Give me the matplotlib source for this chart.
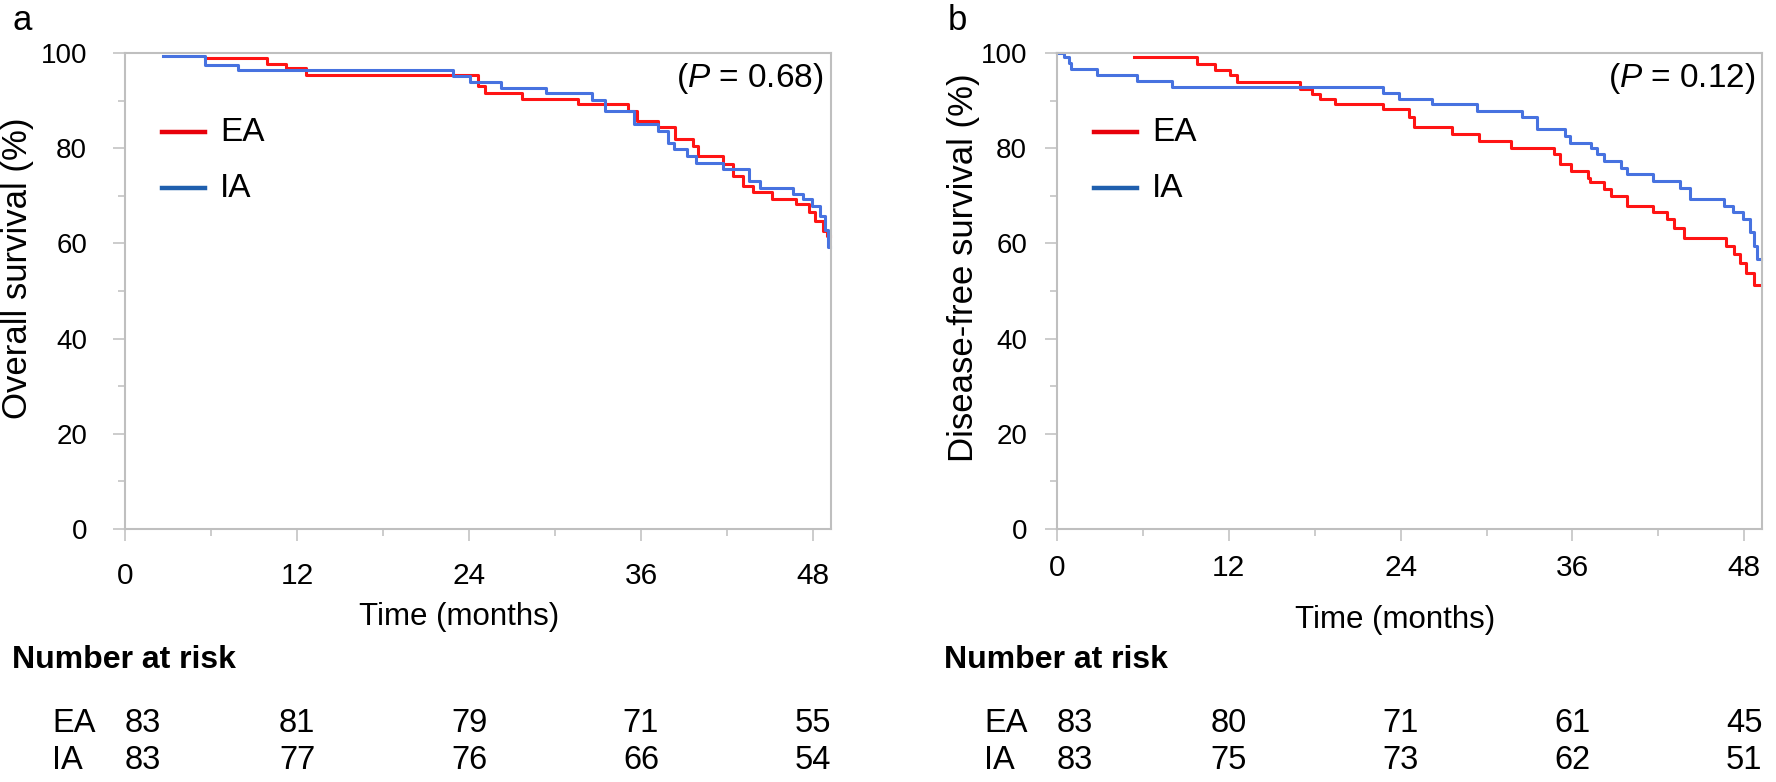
import matplotlib.pyplot as plt
import matplotlib.transforms as mtransforms

plt.rcParams['font.family'] = ['Liberation Sans', 'DejaVu Sans']
plt.rcParams['mathtext.fontset'] = 'custom'
plt.rcParams['mathtext.it'] = 'Liberation Sans:italic'
plt.rcParams['mathtext.rm'] = 'Liberation Sans'

## data
groups = ["EA", "IA"]
riskMonths = [0, 12, 24, 36, 48]
followUpEnd = 49.2

# (a) overall survival
osEaTimes = [5.6, 9.9, 11.2, 12.6, 24.6, 25.1, 27.7, 31.6, 35.1, 35.7, 37.2, 38.4,
             39.6, 40.0, 41.7, 42.4, 43.1, 43.8, 45.1, 46.8, 47.7, 48.1, 48.7, 48.95]
osEaSurv = [98.9, 97.7, 96.8, 95.4, 93.0, 91.7, 90.3, 89.3, 87.9, 85.7, 84.4, 81.9,
            80.5, 78.4, 76.6, 74.2, 72.1, 70.7, 69.4, 68.2, 66.5, 64.7, 62.6, 61.5]
osIaTimes = [2.65, 5.6, 7.9, 22.9, 24.1, 26.2, 29.4, 32.6, 33.5, 35.5, 37.2, 37.9,
             38.3, 39.2, 39.8, 41.7, 43.5, 44.3, 46.6, 47.3, 47.9, 48.5, 48.8, 49.05]
osIaSurv = [99.3, 97.5, 96.4, 95.2, 94.0, 92.6, 91.5, 90.2, 87.9, 85.1, 83.6, 81.2,
            79.8, 78.4, 77.0, 75.6, 73.1, 71.7, 70.3, 69.3, 67.9, 65.8, 62.9, 59.2]
osEaRisk = [83, 81, 79, 71, 55]
osIaRisk = [83, 77, 76, 66, 54]

# (b) disease-free survival
dfsEaTimes = [5.4, 9.8, 11.0, 12.1, 12.6, 17.0, 17.8, 18.4, 19.4, 22.8, 24.6, 24.9,
              27.6, 29.5, 31.7, 34.7, 35.1, 35.9, 37.1, 37.2, 38.2, 38.7, 39.8, 41.6,
              42.6, 43.1, 43.8, 46.7, 47.3, 47.7, 48.1, 48.7]
dfsEaSurv = [99.1, 97.7, 96.4, 95.4, 93.9, 92.5, 91.4, 90.3, 89.3, 88.2, 86.5, 84.4,
             83.0, 81.5, 80.1, 78.7, 76.6, 75.2, 73.8, 72.8, 71.4, 70.0, 67.9, 66.5,
             65.1, 63.3, 61.2, 59.4, 57.7, 55.9, 53.8, 51.3]
dfsIaTimes = [0, 0.5, 0.8, 0.95, 2.8, 5.6, 8.0, 22.8, 23.9, 26.2, 29.3, 32.5, 33.5,
              35.5, 35.8, 37.3, 37.7, 38.2, 39.4, 39.8, 41.6, 43.5, 44.2, 46.6, 47.2,
              47.9, 48.4, 48.7, 48.9]
dfsIaSurv = [100.0, 99.1, 98.0, 96.6, 95.4, 94.2, 92.8, 91.7, 90.3, 89.3, 87.9, 86.5,
             84.0, 82.6, 81.2, 80.1, 78.7, 77.3, 75.9, 74.5, 73.1, 71.7, 69.3, 67.9,
             66.5, 65.1, 62.3, 59.5, 56.8]
dfsEaRisk = [83, 80, 71, 61, 45]
dfsIaRisk = [83, 75, 73, 62, 51]

RED = '#ff1414'
BLUE = '#4772e0'
LEGEND_COLORS = ['#e8000b', '#1f5fae']
GRAY = '#bfbfbf'


##  drawPanel
##  draws one survival panel with its legend, P value and number-at-risk table
##
def drawPanel(fig, rect, letter, letterX, ylabel, ylabelX, pText, xlabelPos,
              curves, risks, ytickPad, xtickPad):
    ax = fig.add_axes(rect)
    for (times, surv), col in zip(curves, [RED, BLUE]):
        ax.step(times + [followUpEnd], surv + [surv[-1]], where='post',
                color=col, lw=2.2, clip_on=False)

    ax.set_xlim(0, 49.25)
    ax.set_ylim(0, 100)
    ax.set_xticks(riskMonths)
    ax.set_xticks([m + 6 for m in riskMonths[:-1]], minor=True)
    ax.set_yticks(range(0, 101, 20))
    ax.set_yticks(range(10, 100, 20), minor=True)
    ax.tick_params(which='major', length=8.6, width=1.1, color=GRAY)
    ax.tick_params(which='minor', length=5, width=1.1, color=GRAY)
    ax.tick_params(axis='y', which='major', labelsize=20, pad=ytickPad)
    ax.tick_params(axis='x', which='major', labelsize=21.5, pad=xtickPad)
    for sp in ax.spines.values():
        sp.set_color(GRAY)
        sp.set_linewidth(1.5)

    ax.set_ylabel(ylabel, fontsize=25)
    ax.yaxis.set_label_coords(ylabelX, 0.548)
    ax.yaxis.label.set_va('center')
    ax.set_xlabel("Time (months)", fontsize=22.5)
    ax.xaxis.set_label_coords(*xlabelPos)
    ax.xaxis.label.set_va('center')

    # legend
    for i, (name, col) in enumerate(zip(groups, LEGEND_COLORS)):
        yy = 0.834 - i * 0.118
        ax.plot([0.052, 0.113], [yy, yy], transform=ax.transAxes, color=col, lw=3.2)
        ax.text(0.135, yy, name, transform=ax.transAxes, va='center', fontsize=24)

    ax.text(0.99, 0.946, "(" + r"$\mathit{P}$" + " = " + pText + ")",
            transform=ax.transAxes, ha='right', va='center', fontsize=24)

    # number at risk
    rowTrans = mtransforms.blended_transform_factory(ax.transAxes, fig.transFigure)
    numTrans = mtransforms.blended_transform_factory(ax.transData, fig.transFigure)
    fig.text(0, 0, "Number at risk", transform=rowTrans, fontsize=23,
             fontweight='bold', va='center').set_position((-0.160, 0.156))
    for name, counts, yy in zip(groups, risks, [0.0754, 0.028]):
        fig.text(-0.103, yy, name, transform=rowTrans, fontsize=23.5, va='center')
        for j, (m, n) in enumerate(zip(riskMonths, counts)):
            fig.text(m, yy, str(n), transform=numTrans, fontsize=23.5, va='center',
                     ha='left' if j == 0 else 'center')

    fig.text(letterX, 0.974, letter, fontsize=25, va='center', ha='center')
    return ax


fig = plt.figure(figsize=(17.76, 7.82), dpi=100)
drawPanel(fig, [0.0704, 0.3235, 0.3975, 0.6087], "a", 0.0124,
          "Overall survival (%)", -0.153, "0.68", (0.473, -0.185),
          [(osEaTimes, osEaSurv), (osIaTimes, osIaSurv)], [osEaRisk, osIaRisk],
          18.7, 15)
drawPanel(fig, [0.5952, 0.3235, 0.397, 0.6087], "b", 0.5389,
          "Disease-free survival (%)", -0.133, "0.12", (0.479, -0.191),
          [(dfsEaTimes, dfsEaSurv), (dfsIaTimes, dfsIaSurv)], [dfsEaRisk, dfsIaRisk],
          13, 9.4)
fig.savefig("out.png", dpi=100)
